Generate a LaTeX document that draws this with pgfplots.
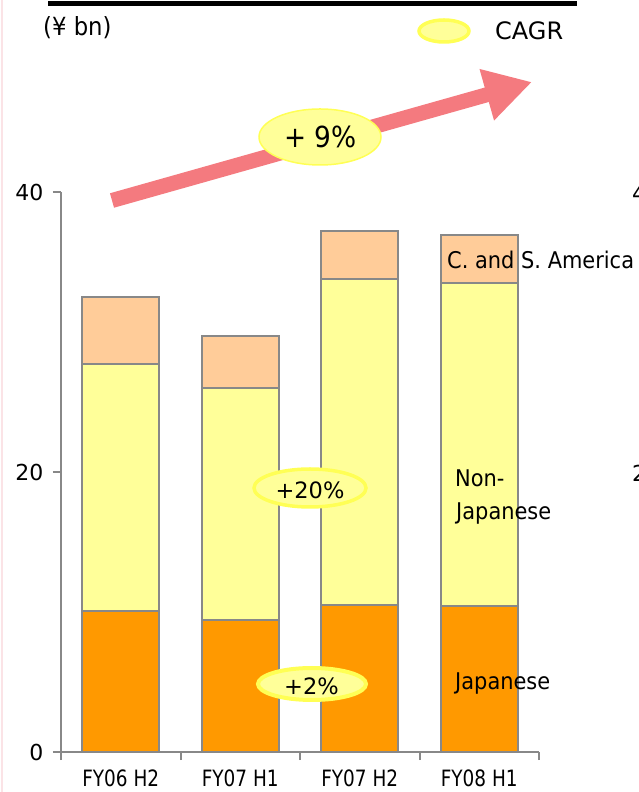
\documentclass[border=0pt]{standalone}
\usepackage{pgfplots}
\pgfplotsset{compat=1.18}
\usepackage{fontspec}
\setmainfont{DejaVu Sans}
\newfontfamily\labelfont{DejaVu Sans}[FakeStretch=0.91]
\newfontfamily\catfont{DejaVu Sans}[FakeStretch=0.82]
\usetikzlibrary{arrows.meta}

\definecolor{jap}{HTML}{FF9900}
\definecolor{nonjap}{HTML}{FFFF99}
\definecolor{csa}{HTML}{FFCC99}
\definecolor{edge}{HTML}{888888}
\definecolor{arrowred}{HTML}{F47A7F}
\definecolor{bubble}{HTML}{FFFF99}
\definecolor{bubbleedge}{HTML}{FFFF55}
\definecolor{pinkrule}{HTML}{FBE3E6}

\begin{document}
\begin{tikzpicture}[x=1pt,y=1pt]
\useasboundingbox (0,0) rectangle (639,792);
\clip (0,0) rectangle (639,792);

\begin{axis}[
  at={(61pt,40pt)}, anchor=south west,
  scale only axis, width=478pt, height=560pt,
  xmin=-0.5, xmax=3.5, ymin=0, ymax=40,
  axis lines*=left,
  axis line style={edge, line width=2pt, -},
  ybar stacked, bar width=77pt,
  ytick={0,20,40},
  tick align=outside, major tick length=8pt,
  ytick style={edge, line width=2pt},
  xtick={0,1,2,3},
  xticklabels={FY06 H2,FY07 H1,FY07 H2,FY08 H1},
  xtick style={draw=none},
  extra x ticks={-0.5,0.5,1.5,2.5,3.5},
  extra x tick labels={},
  extra x tick style={xtick style={draw=edge, line width=2pt}},
  /pgf/number format/assume math mode=true,
  y tick label style={font=\fontsize{22}{22}\selectfont, xshift=-6pt},
  x tick label style={font=\catfont\fontsize{22.5}{23}\selectfont, inner sep=0pt, yshift=-10pt},
  clip=false,
]
% Japanese customers
\addplot[fill=jap, draw=edge, line width=2pt] coordinates {(0,10.1) (1,9.4) (2,10.5) (3,10.4)};
% Non-Japanese customers
\addplot[fill=nonjap, draw=edge, line width=2pt] coordinates {(0,17.6) (1,16.6) (2,23.3) (3,23.1)};
% Central and South America
\addplot[fill=csa, draw=edge, line width=2pt] coordinates {(0,4.8) (1,3.7) (2,3.4) (3,3.4)};
\end{axis}

\begin{scope}[shift={(0,792)}, y=-1pt, every node/.style={inner sep=0pt}]
  % faint page rule on the left and heavy rule on top
  \draw[pinkrule, line width=1.5pt] (2,0) -- (2,792);
  \draw[black, line width=5.5pt] (48,3.5) -- (577,3.5);

  % unit and legend
  \node[anchor=base west, font=\labelfont\fontsize{25}{26}\selectfont] at (43,36) {(¥ bn)};
  \draw[bubbleedge, line width=3.5pt, fill=bubble] (444,31) ellipse [x radius=25, y radius=11];
  \node[anchor=base west, font=\fontsize{24}{26}\selectfont] at (495,40) {CAGR};

  % overall growth arrow
  \draw[arrowred, line width=15pt, -{Triangle[length=47pt, width=50pt]}] (112,200.5) -- (532,82);
  \draw[bubbleedge, line width=1.5pt, fill=bubble] (320,137) ellipse [x radius=61, y radius=28];
  \node[anchor=base, font=\labelfont\fontsize{29}{30}\selectfont] at (320.5,148) {+ 9\%};

  % segment growth bubbles
  \draw[bubbleedge, line width=3.5pt, fill=bubble] (310,488) ellipse [x radius=56, y radius=19];
  \node[anchor=base, font=\fontsize{22.5}{26}\selectfont] at (310,499) {+20\%};
  \draw[bubbleedge, line width=4pt, fill=bubble] (312,684) ellipse [x radius=54, y radius=16];
  \node[anchor=base, font=\fontsize{22.5}{26}\selectfont] at (311.5,695) {+2\%};

  % segment names
  \node[anchor=base west, font=\labelfont\fontsize{23}{23}\selectfont] at (447,269) {C. and S. America};
  \node[anchor=base west, font=\labelfont\fontsize{23}{23}\selectfont] at (455,487) {Non-};
  \node[anchor=base west, font=\labelfont\fontsize{23}{23}\selectfont] at (456,520) {Japanese};
  \node[anchor=base west, font=\labelfont\fontsize{23}{23}\selectfont] at (455,690) {Japanese};

  % scale of the neighbouring chart
  \node[anchor=west, font=\fontsize{22}{22}\selectfont] at (632,193) {40};
  \node[anchor=west, font=\fontsize{22}{22}\selectfont] at (632,473) {20};
\end{scope}
\end{tikzpicture}
\end{document}
